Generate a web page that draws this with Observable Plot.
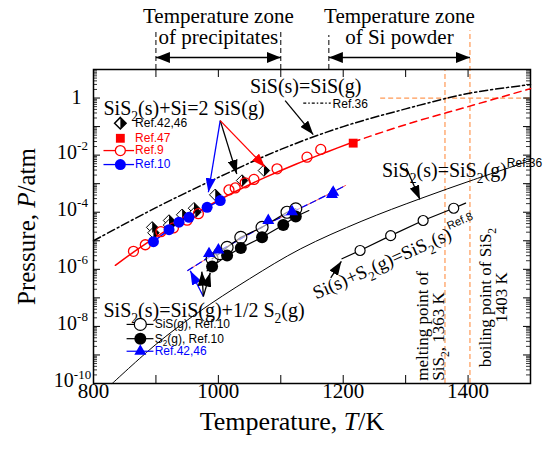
<!DOCTYPE html>
<html><head><meta charset="utf-8">
<script src="https://cdn.jsdelivr.net/npm/d3@7"></script>
<script src="https://cdn.jsdelivr.net/npm/@observablehq/plot@0.6"></script>
<style>body{margin:0;background:#fff}</style>
</head><body><div id="chart"></div>
<script>
// ---------- data (T in K, values are log10 of P/atm) ----------
const xTickVals = [800, 900, 1000, 1100, 1200, 1300, 1400, 1500];
const xLabelVals = [800, 1000, 1200, 1400];
const yMajorExp = [-10, -9, -8, -7, -6, -5, -4, -3, -2, -1, 0, 1];
const yLabelExp = [-10, -8, -6, -4, -2, 0];
const minorMult = [2, 3, 4, 5, 6, 7, 8, 9];

// SiS(s)=SiS(g), Ref.36 (dash-dot)
const sisT = [800, 900, 1000, 1100, 1200, 1300, 1400, 1500];
const sisLogP = [-5.0, -3.84, -2.78, -1.80, -1.00, -0.38, 0.16, 0.47];
// SiS2(s)+Si=2SiS(g) Ref.9 curve (solid) and extrapolation (dashed)
const r9LineT = [835, 875, 925, 975, 1025, 1075, 1125, 1175, 1216];
const r9LineLogP = [-5.86, -5.23, -4.52, -3.88, -3.30, -2.78, -2.31, -1.88, -1.54];
const r9DashT = [1216, 1300, 1400, 1500];
const r9DashLogP = [-1.54, -0.93, -0.30, 0.33];
const r9T = [864, 883, 908, 928, 950, 968, 1017, 1027, 1043, 1057, 1094, 1142, 1164];
const r9LogP = [-5.37, -5.14, -4.68, -4.55, -4.28, -4.05, -3.22, -3.15, -2.97, -2.85, -2.48, -2.07, -1.80];
// Ref.47
const r47T = [1216];
const r47LogP = [-1.58];
// Ref.10 (upper, blue)
const r10T = [896, 921, 937, 953, 982, 1003];
const r10LogP = [-5.03, -4.61, -4.35, -4.18, -3.83, -3.59];
// Ref.42,46 (upper, half-filled diamonds)
const r42T = [894, 896, 921, 921, 942, 961, 963, 995, 1038, 1073];
const r42LogP = [-4.53, -4.72, -4.29, -4.45, -4.09, -3.86, -4.00, -3.39, -2.89, -2.54];
// SiS2(s)=SiS(g)+1/2S2(g)
const lowRefLineT = [951, 1000, 1080, 1150, 1204];
const lowRefLineLogP = [-6.04, -5.38, -4.40, -3.66, -3.06];
const triT = [985, 1000, 1080, 1118, 1182, 1184];
const triLogP = [-5.45, -5.32, -4.29, -3.98, -3.38, -3.30];
const sisGT = [990, 1002, 1014, 1036, 1070, 1110, 1124];
const sisGLogP = [-5.63, -5.45, -5.23, -4.88, -4.53, -4.00, -3.88];
const s2T = [990, 1014, 1036, 1070, 1104, 1124];
const s2LogP = [-5.90, -5.52, -5.25, -4.88, -4.45, -4.15];
const s2LineT = [982, 990, 1014, 1036, 1070, 1104, 1124, 1145];
const s2LineLogP = [-6.05, -5.90, -5.52, -5.25, -4.88, -4.45, -4.15, -3.94];
// SiS2(s)=SiS2(g), Ref.36
const sis2T = [830, 900, 965, 1050, 1132, 1230, 1324, 1409, 1500];
const sis2LogP = [-10.0, -8.63, -7.55, -6.33, -5.28, -4.31, -3.52, -2.86, -2.19];
// Si(s)+S2(g)=SiS2(s), Ref.8
const r8LineT = [1198, 1227, 1276, 1328, 1377, 1396];
const r8LineLogP = [-5.63, -5.34, -4.82, -4.29, -3.86, -3.68];
const r8T = [1227, 1276, 1328, 1377];
const r8LogP = [-5.34, -4.82, -4.29, -3.86];
// reference temperatures
const meltT = 1363, boilT = 1403;
const zoneStartT = [900, 1177];
const zoneEndT = [1100, 1403];
const zoneText = ["Temperature zone\nof precipitates", "Temperature zone\nof Si powder"];

// ---------- helpers ----------
const serif = "'Liberation Serif','Times New Roman',serif";
const sans = "'Liberation Sans',Arial,sans-serif";
const RED = "#ff0000", BLUE = "#0000ff", ORANGE = "#ff9955";
const P = lp => 10 ** lp;
const pts = (T, L) => T.map((t, i) => ({x: t, y: P(L[i])}));

function head(len, hw) {
  return (color) => {
    const m = d3.create("svg:marker")
      .attr("viewBox", `0 ${-hw} ${len} ${2 * hw}`)
      .attr("markerWidth", len).attr("markerHeight", 2 * hw)
      .attr("refX", len).attr("refY", 0)
      .attr("markerUnits", "userSpaceOnUse")
      .attr("orient", "auto-start-reverse");
    m.append("path").attr("d", `M0,${-hw}L${len},0L0,${hw}Z`).attr("fill", color).attr("stroke", "none");
    return m.node();
  };
}
const diamondSym = {draw(c, size) { const r = Math.sqrt(size / Math.PI) * 1.15; c.moveTo(0, -r); c.lineTo(r, 0); c.lineTo(0, r); c.lineTo(-r, 0); c.closePath(); }};
const halfDiamondSym = {draw(c, size) { const r = Math.sqrt(size / Math.PI) * 1.15; c.moveTo(0, -r); c.lineTo(r, 0); c.lineTo(0, r); c.closePath(); }};

// annotation arrows (T, logP)
const arrows = [
  {x1: 1003, y1: -0.79, x2: 984, y2: -3.30, c: BLUE},
  {x1: 1003, y1: -0.79, x2: 1029.5, y2: -2.66, c: "black"},
  {x1: 1003, y1: -0.79, x2: 1075, y2: -2.42, c: RED},
  {x1: 1107, y1: -0.09, x2: 1152, y2: -1.28, c: "black"},
  {x1: 1301, y1: -2.45, x2: 1323, y2: -3.55, c: "black"},
  {x1: 1180, y1: -6.30, x2: 1197, y2: -5.72, c: "black"},
  {x1: 976, y1: -6.95, x2: 955, y2: -6.05, c: BLUE},
  {x1: 976, y1: -6.95, x2: 973.5, y2: -6.08, c: "black"},
  {x1: 976, y1: -6.95, x2: 987, y2: -6.12, c: "black"}
];
const startLabels = [
  {t: "SiS_{2}(s)+Si=2 SiS(g)", x: 816, y: -0.37},
  {t: "SiS_{2}(s)=SiS(g)+1/2 S_{2}(g)", x: 816, y: -7.44},
  {t: "SiS_{2}(s)=SiS_{2}(g)^{Ref.36}", x: 1262, y: -2.54}
];
const midLabels = [
  {t: "SiS(s)=SiS(g)", x: 1140, y: 0.40}
];

const minorTicks = yMajorExp.slice(0, -1).flatMap(e => minorMult.map(k => k * 10 ** e));
const FW = 437, FH = 314; // frame size in px (for tick insets)

const plot = Plot.plot({
  width: 547, height: 449,
  marginLeft: 93, marginRight: 17, marginTop: 69, marginBottom: 66,
  x: {domain: [800, 1500], axis: null},
  y: {type: "log", domain: [1e-10, 10], axis: null},
  style: {fontFamily: serif, fontSize: "20px", background: "white", color: "black"},
  marks: [
    // reference lines
    Plot.ruleX([meltT, boilT], {x: d => d, y1: 1e-10, y2: d => d === boilT ? P(2.36) : 10, stroke: ORANGE, strokeDasharray: "5,3", strokeWidth: 1.2}),
    Plot.ruleY([1], {y: d => d, x1: 1260, x2: 1500, stroke: ORANGE, strokeDasharray: "5,3", strokeWidth: 1.2}),
    Plot.ruleX([zoneStartT[0], zoneEndT[0], zoneStartT[1]], {x: d => d, y1: 10, y2: d => d === zoneStartT[1] ? P(2.19) : P(2.36), stroke: "black", strokeDasharray: "5,3", strokeWidth: 1}),
    Plot.link(zoneStartT, {x1: d => d, x2: (d, i) => zoneEndT[i], y1: P(1.42), y2: P(1.42), stroke: "black", strokeWidth: 1.5, markerStart: head(14, 5.5), markerEnd: head(14, 5.5)}),
    Plot.text(zoneText, {x: (d, i) => (zoneStartT[i] + zoneEndT[i]) / 2, y: P(2.5), text: d => d, textAnchor: "middle", lineHeight: 1, fontSize: 21}),
    // frame & inward ticks
    Plot.frame({stroke: "black", strokeWidth: 1.5}),
    Plot.tickX(xTickVals, {x: d => d, insetTop: FH - 8, stroke: "black", strokeWidth: 1}),
    Plot.tickX(xTickVals, {x: d => d, insetBottom: FH - 8, stroke: "black", strokeWidth: 1}),
    Plot.tickY(yMajorExp.map(P), {y: d => d, insetRight: FW - 7, stroke: "black", strokeWidth: 1}),
    Plot.tickY(yMajorExp.map(P), {y: d => d, insetLeft: FW - 7, stroke: "black", strokeWidth: 1}),
    Plot.tickY(minorTicks, {y: d => d, insetRight: FW - 4, stroke: "black", strokeWidth: 0.8}),
    Plot.tickY(minorTicks, {y: d => d, insetLeft: FW - 4, stroke: "black", strokeWidth: 0.8}),
    Plot.text(xLabelVals, {x: d => d, frameAnchor: "bottom", dy: 14, textAnchor: "middle", text: d => String(d), fontSize: 21}),
    Plot.text(yLabelExp.filter(e => e !== 0), {y: P, frameAnchor: "left", dx: -21, dy: -3, textAnchor: "middle", text: e => `10^{${e}}`, fontSize: 20}),
    Plot.text([0], {y: P, frameAnchor: "left", dx: -17, textAnchor: "middle", text: () => "1", fontSize: 20}),
    Plot.text(["Pressure, *P*/atm"], {frameAnchor: "left", dx: -67, textAnchor: "middle", rotate: -90, fontSize: 25}),
    Plot.text(["Temperature, *T*/K"], {frameAnchor: "bottom", dx: -20, dy: 46, textAnchor: "middle", fontSize: 26}),
    // curves
    Plot.line(pts(sisT, sisLogP), {x: "x", y: "y", curve: "catmull-rom", stroke: "black", strokeWidth: 1.5, strokeDasharray: "8,3,2,3"}),
    Plot.line(pts(sis2T, sis2LogP), {x: "x", y: "y", curve: "catmull-rom", stroke: "black", strokeWidth: 1}),
    Plot.line(pts(r9LineT, r9LineLogP), {x: "x", y: "y", curve: "catmull-rom", stroke: RED, strokeWidth: 1.5}),
    Plot.line(pts(r9DashT, r9DashLogP), {x: "x", y: "y", curve: "catmull-rom", stroke: RED, strokeWidth: 1.5, strokeDasharray: "7,5"}),
    Plot.line(pts(lowRefLineT, lowRefLineLogP), {x: "x", y: "y", curve: "catmull-rom", stroke: RED, strokeWidth: 1, strokeOpacity: 0.7}),
    Plot.line(pts(lowRefLineT, lowRefLineLogP), {x: "x", y: "y", curve: "catmull-rom", stroke: BLUE, strokeWidth: 1.3, strokeDasharray: "6,4"}),
    Plot.line(pts(s2LineT, s2LineLogP), {x: "x", y: "y", stroke: "black", strokeWidth: 1.2}),
    Plot.line(pts(sisGT, sisGLogP), {x: "x", y: "y", stroke: "black", strokeWidth: 1.2}),
    Plot.line(pts(r8LineT, r8LineLogP), {x: "x", y: "y", stroke: "black", strokeWidth: 1.2}),
    Plot.line(pts(r10T, r10LogP), {x: "x", y: "y", stroke: BLUE, strokeWidth: 1.3}),
    // points
    Plot.dot(pts(r42T, r42LogP), {x: "x", y: "y", symbol: diamondSym, r: 5, fill: "white", stroke: "black", strokeWidth: 1}),
    Plot.dot(pts(r42T, r42LogP), {x: "x", y: "y", symbol: halfDiamondSym, r: 5, fill: "black"}),
    Plot.dot(pts(r9T, r9LogP), {x: "x", y: "y", r: 5, fill: "white", fillOpacity: 0, stroke: RED, strokeWidth: 1.3}),
    Plot.dot(pts(r10T, r10LogP), {x: "x", y: "y", r: 5.5, fill: BLUE}),
    Plot.dot(pts(r47T, r47LogP), {x: "x", y: "y", symbol: "square", r: 5, fill: RED}),
    Plot.dot(pts(sisGT, sisGLogP), {x: "x", y: "y", r: 6, fill: "white", fillOpacity: 0.6, stroke: "black", strokeWidth: 1.2}),
    Plot.dot(pts(s2T, s2LogP), {x: "x", y: "y", r: 6, fill: "black"}),
    Plot.dot(pts(triT, triLogP), {x: "x", y: "y", symbol: "triangle", r: 3.5, fill: BLUE, stroke: BLUE}),
    Plot.dot(pts(r8T, r8LogP), {x: "x", y: "y", r: 5, fill: "white", stroke: "black", strokeWidth: 1.2}),
    // annotations
    Plot.link(arrows, {x1: "x1", x2: "x2", y1: d => P(d.y1), y2: d => P(d.y2), stroke: d => d.c, strokeWidth: 1.3, markerEnd: head(14, 5)}),
    Plot.text(startLabels, {x: "x", y: d => P(d.y), text: "t", textAnchor: "start", fontSize: 20}),
    Plot.text(midLabels, {x: "x", y: d => P(d.y), text: "t", textAnchor: "middle", fontSize: 20}),
    Plot.text(["Si(s)+S_{2}(g)=SiS_{2}(s)^{Ref.8}"], {x: 1153, y: P(-6.86), textAnchor: "start", rotate: -24, fontSize: 19}),
    Plot.text(["melting point of\nSiS_{2}, 1363 K"], {x: 1340.6, y: P(-9.9), rotate: -90, textAnchor: "start", lineHeight: 0.95, fontSize: 17}),
    Plot.text(["boiling point of SiS_{2}\n1403 K"], {x: 1441, y: P(-6.99), rotate: -90, textAnchor: "middle", lineHeight: 0.95, fontSize: 17}),
    // Ref.36 key near SiS(s)=SiS(g)
    Plot.link([0], {x1: 1136, x2: 1180, y1: P(-0.18), y2: P(-0.18), stroke: "black", strokeWidth: 1.2, strokeDasharray: "3,2,1.5,2"}),
    Plot.text(["Ref.36"], {x: 1183, y: P(-0.21), textAnchor: "start", fontSize: 12, fontFamily: sans}),
    // upper legend
    Plot.dot([0], {x: 843, y: P(-0.88), symbol: diamondSym, r: 5, fill: "white", stroke: "black"}),
    Plot.dot([0], {x: 843, y: P(-0.88), symbol: halfDiamondSym, r: 5, fill: "black"}),
    Plot.dot([0], {x: 843, y: P(-1.41), symbol: "square", r: 5, fill: RED}),
    Plot.link([0], {x1: 816, x2: 865, y1: P(-1.84), y2: P(-1.84), stroke: RED, strokeWidth: 1.3}),
    Plot.dot([0], {x: 843, y: P(-1.84), r: 5, fill: "white", stroke: RED, strokeWidth: 1.3}),
    Plot.link([0], {x1: 816, x2: 865, y1: P(-2.33), y2: P(-2.33), stroke: BLUE, strokeWidth: 1.3}),
    Plot.dot([0], {x: 843, y: P(-2.33), r: 5.5, fill: BLUE}),
    Plot.text(["Ref.42,46", "Ref.47", "Ref.9", "Ref.10"], {x: 865, y: (d, i) => P([-0.88, -1.41, -1.84, -2.33][i]), text: d => d, textAnchor: "start", dx: 1, fontSize: 12, fontFamily: sans, fill: (d, i) => ["black", RED, RED, BLUE][i]}),
    // lower legend
    Plot.link([-7.93, -8.43], {x1: 853, x2: 896, y1: P, y2: P, stroke: "black", strokeWidth: 1.2}),
    Plot.link([-8.87], {x1: 853, x2: 896, y1: P, y2: P, stroke: BLUE, strokeWidth: 1.2}),
    Plot.dot([-7.93], {x: 875, y: P, r: 6, fill: "white", stroke: "black", strokeWidth: 1.2}),
    Plot.dot([-8.43], {x: 875, y: P, r: 6, fill: "black"}),
    Plot.dot([-8.87], {x: 875, y: P, symbol: "triangle", r: 3.5, fill: BLUE, stroke: BLUE}),
    Plot.text(["SiS(g), Ref.10", "S_{2}(g), Ref.10", "Ref.42,46"], {x: 898, y: (d, i) => P([-7.93, -8.43, -8.87][i]), text: d => d, textAnchor: "start", fontSize: 12, fontFamily: sans, fill: (d, i) => ["black", "black", BLUE][i]})
  ]
});

document.getElementById("chart").appendChild(plot);

// rich text: _{sub}, ^{sup}, *italic*
const NS = "http://www.w3.org/2000/svg";
plot.querySelectorAll("text").forEach(text => {
  const spans = text.querySelectorAll("tspan");
  const targets = spans.length ? Array.from(spans) : [text];
  targets.forEach(el => {
    const s = el.textContent;
    if (!/_\{|\^\{|\*/.test(s)) return;
    const fs = parseFloat(getComputedStyle(el).fontSize) || 20;
    const parts = s.split(/(_\{[^}]*\}|\^\{[^}]*\}|\*[^*]+\*)/);
    el.textContent = "";
    let shift = 0;
    for (const p of parts) {
      if (!p) continue;
      const ts = document.createElementNS(NS, "tspan");
      let target = 0, txt = p;
      if (p.startsWith("_{")) { target = 0.3 * fs; txt = p.slice(2, -1); ts.setAttribute("font-size", 0.68 * fs); }
      else if (p.startsWith("^{")) {
        txt = p.slice(2, -1);
        const ref = txt.startsWith("Ref");
        target = -(ref ? 0.5 : 0.42) * fs;
        ts.setAttribute("font-size", (ref ? 0.6 : 0.65) * fs);
        if (ref) ts.setAttribute("font-family", sans);
      }
      else if (p.startsWith("*")) { txt = p.slice(1, -1); ts.setAttribute("font-style", "italic"); }
      if (target !== shift) ts.setAttribute("dy", target - shift);
      shift = target;
      ts.textContent = txt;
      el.appendChild(ts);
    }
    // restore the baseline for a following line of a multi-line text
    if (shift && el !== text && el.nextElementSibling) {
      const next = el.nextElementSibling;
      const dy = next.getAttribute("dy") || "0";
      const em = dy.endsWith("em") ? parseFloat(dy) * fs : parseFloat(dy);
      next.setAttribute("dy", em - shift);
    }
  });
});
</script></body></html>
